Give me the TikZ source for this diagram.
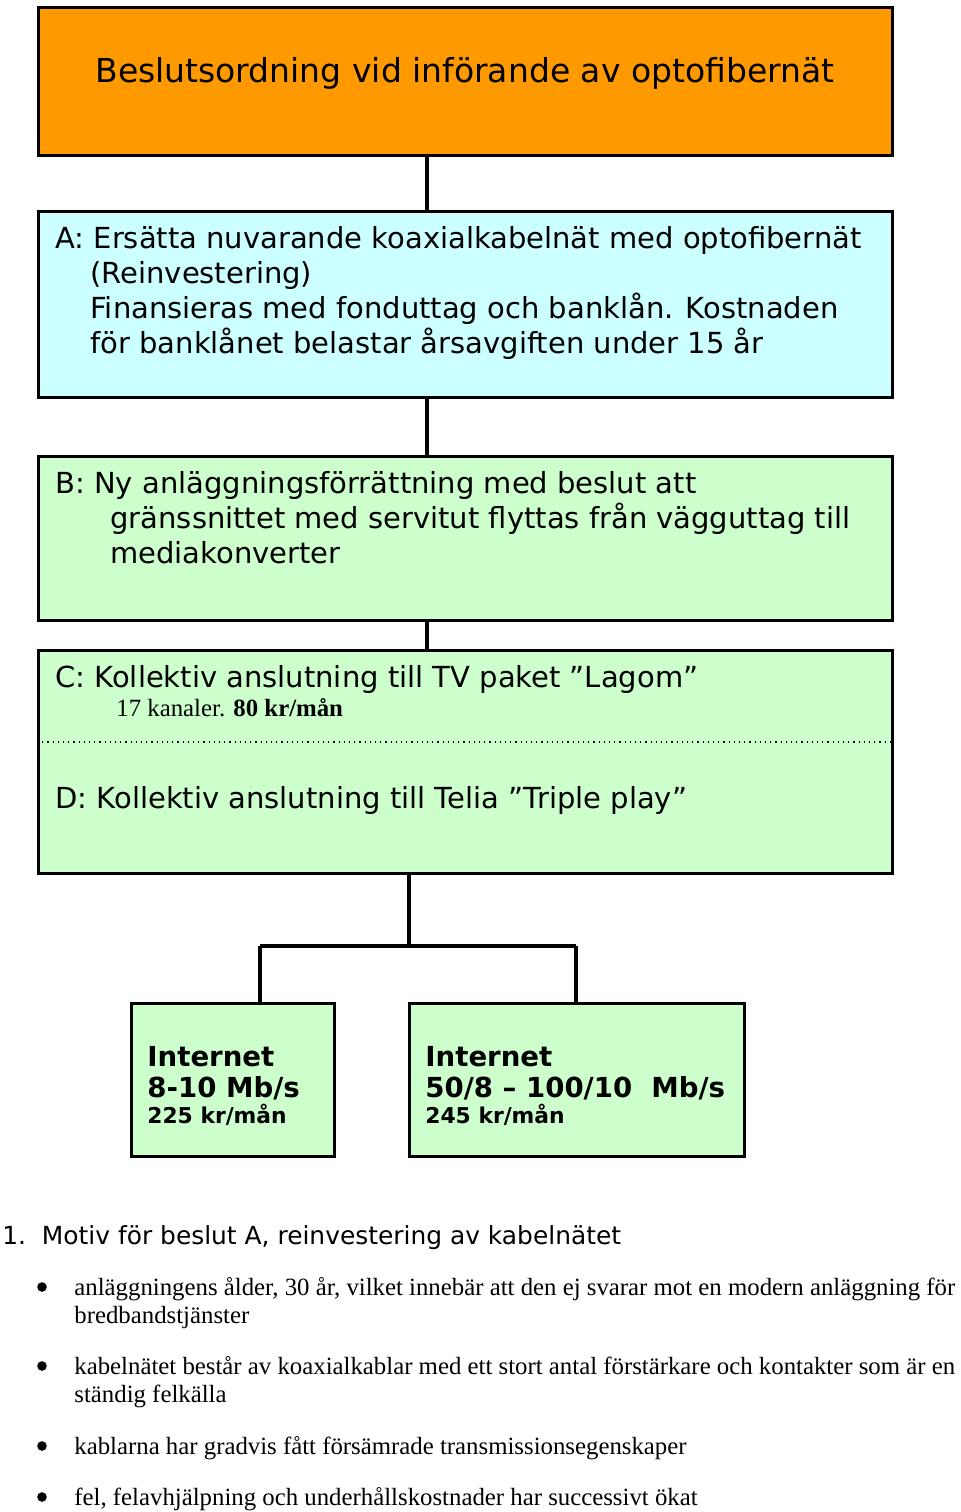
\documentclass[tikz,border=0pt]{standalone}
\usepackage{fontspec}
\setmainfont{Liberation Serif}
\newfontfamily\vf{DejaVu Sans}
\begin{document}
\begin{tikzpicture}[x=0.5pt,y=-0.5pt,
  box/.style={draw,line width=1.5pt},
  conn/.style={line width=2pt},
  bt/.style={anchor=base west,inner sep=0pt,font=\vf\fontsize{14.5}{16}\selectfont},
  it/.style={anchor=base west,inner sep=0pt,font=\vf\bfseries\fontsize{13.8}{15}\selectfont},
  it2/.style={anchor=base west,inner sep=0pt,font=\vf\bfseries\fontsize{10.9}{12}\selectfont},
  tt/.style={anchor=base west,inner sep=0pt,font=\fontsize{12.4}{14}\selectfont}]
\useasboundingbox (0,0) rectangle (960,1512);
\definecolor{org}{HTML}{FF9900}\definecolor{cy}{HTML}{CCFFFF}\definecolor{gr}{HTML}{CCFFCC}
\node[box,fill=org,minimum width=427pt,minimum height=74pt,anchor=north west] (T) at (37,6) {};
\node[box,fill=cy,minimum width=427pt,minimum height=93pt,anchor=north west] (A) at (37,210) {};
\node[box,fill=gr,minimum width=427pt,minimum height=82pt,anchor=north west] (B) at (37,455) {};
\node[box,fill=gr,minimum width=427pt,minimum height=111.5pt,anchor=north west] (CD) at (37,649) {};
\node[box,fill=gr,minimum width=101.5pt,minimum height=76.5pt,anchor=north west] (I1) at (130,1002) {};
\node[box,fill=gr,minimum width=167.5pt,minimum height=76.5pt,anchor=north west] (I2) at (408,1002) {};
\draw[dotted,line width=0.6pt] (CD.west |- 0,742) -- (CD.east |- 0,742);
\coordinate (cx) at (427,0);
\draw[conn] (T.south -| cx) -- (A.north -| cx);
\draw[conn] (A.south -| cx) -- (B.north -| cx);
\draw[conn] (B.south -| cx) -- (CD.north -| cx);
\coordinate (hub) at (409,946);\coordinate (l1) at (260,946);\coordinate (l2) at (576,946);
\draw[conn] (CD.south -| hub) -- (hub);
\draw[conn] (l1) -- (l2);
\draw[conn] (l1) -- (l1 |- I1.north);
\draw[conn] (l2) -- (l2 |- I2.north);
\node[anchor=base west,inner sep=0pt,font=\vf\fontsize{16.5}{18}\selectfont] (tt) at (95,82) {Beslutsordning vid införande av optofibernät};
\node[bt] (a1) at (55,248) {A: Ersätta nuvarande koaxialkabelnät med optofibernät};
\node[bt] (a2) at (90,283) {(Reinvestering)};
\node[bt] (a3) at (90,318) {Finansieras med fonduttag och banklån. Kostnaden};
\node[bt] (a4) at (90,353) {för banklånet belastar årsavgiften under 15 år};
\node[bt] (b1) at (55,493) {B: Ny anläggningsförrättning med beslut att};
\node[bt] (b2) at (110,528) {gränssnittet med servitut flyttas från vägguttag till};
\node[bt] (b3) at (110,563) {mediakonverter};
\node[bt] (c1) at (55,687) {C: Kollektiv anslutning till TV paket ”Lagom”};
\node[tt] (c2) at (116,716) {17 kanaler. \textbf{80 kr/mån}};
\node[bt] (d1) at (55,808) {D: Kollektiv anslutning till Telia ”Triple play”};
\node[it] (i11) at (147,1066) {Internet};
\node[it] (i12) at (147,1097) {8-10 Mb/s};
\node[it2] (i13) at (147,1123) {225 kr/mån};
\node[it] (i21) at (425,1066) {Internet};
\node[it] (i22) at (425,1097) {50/8 – 100/10\ \ Mb/s};
\node[it2] (i23) at (425,1123) {245 kr/mån};
\node[anchor=base west,inner sep=0pt,font=\vf\fontsize{12.45}{14}\selectfont] (h) at (2,1244) {1.\ \ Motiv för beslut A, reinvestering av kabelnätet};
\foreach \y/\t in {1295/{anläggningens ålder, 30 år, vilket innebär att den ej svarar mot en modern anläggning för},
  1323/{bredbandstjänster},
  1374/{kabelnätet består av koaxialkablar med ett stort antal förstärkare och kontakter som är en},
  1402/{ständig felkälla},
  1454/{kablarna har gradvis fått försämrade transmissionsegenskaper},
  1505/{fel, felavhjälpning och underhållskostnader har successivt ökat}}
  \node[tt] at (74,\y) {\t};
\foreach \y in {1287,1366,1446,1497} \fill (42,\y) circle (2.4pt);
\end{tikzpicture}
\end{document}
